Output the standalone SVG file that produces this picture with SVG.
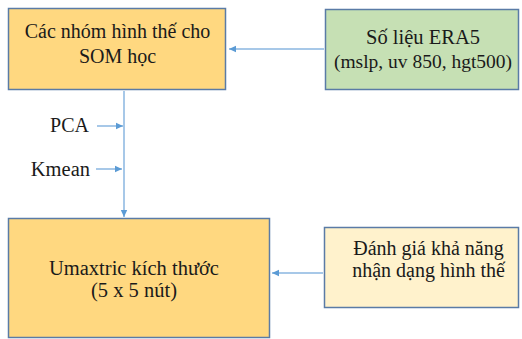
<svg xmlns="http://www.w3.org/2000/svg" width="522" height="339" viewBox="0 0 522 339">
<defs>
<marker id="ah" markerWidth="8" markerHeight="8" refX="7" refY="4" orient="auto" markerUnits="userSpaceOnUse">
<path d="M0,0.8 L7,4 L0,7.2 Z" fill="#5B9BD5"/>
</marker>
<style>
.box{stroke:#5A7BA6;stroke-width:1.5}
.t{fill:#1a1a1a;text-anchor:middle}
.r{text-anchor:end}
.c{stroke:#8AB6E0;stroke-width:1.5;fill:none}
</style>
</defs>
<rect width="522" height="339" fill="#fff"/>
<g id="connectors">
<line class="c" x1="324" y1="49" x2="229" y2="49" marker-end="url(#ah)"/>
<line class="c" x1="124" y1="91" x2="124" y2="217" marker-end="url(#ah)"/>
<line class="c" x1="97" y1="126" x2="123" y2="126" marker-end="url(#ah)"/>
<line class="c" x1="96" y1="169" x2="122" y2="169" marker-end="url(#ah)"/>
<line class="c" x1="323" y1="273" x2="272" y2="273" marker-end="url(#ah)"/>
</g>
<g font-family="'Liberation Serif', 'DejaVu Serif', serif">
<g id="n1">
<rect class="box" x="8.5" y="8.5" width="217" height="81" fill="#FFD880"/>
<text class="t" x="117.5" y="38" font-size="20">Các nhóm hình thế cho</text>
<text class="t" x="117.5" y="63" font-size="20">SOM học</text>
</g>
<g id="n2">
<rect class="box" x="325.5" y="9.5" width="193" height="80" fill="#C6E0B4"/>
<text class="t" x="423" y="44" font-size="20.5">Số liệu ERA5</text>
<text class="t" x="423" y="68" font-size="19.5">(mslp, uv 850, hgt500)</text>
</g>
<g id="lbl">
<text class="t r" x="89" y="132" font-size="20">PCA</text>
<text class="t r" x="90" y="176" font-size="20.5">Kmean</text>
</g>
<g id="n3">
<rect class="box" x="8.5" y="218.5" width="261" height="119" fill="#FFD880"/>
<text class="t" x="134" y="275" font-size="20.5">Umaxtric kích thước</text>
<text class="t" x="134" y="297" font-size="20.5">(5 x 5 nút)</text>
</g>
<g id="n4">
<rect class="box" x="324.5" y="227.5" width="194" height="80" fill="#FFF2CC"/>
<text class="t" x="428.5" y="255" font-size="20">Đánh giá khả năng</text>
<text class="t" x="428.5" y="277" font-size="20">nhận dạng hình thế</text>
</g>
</g>
</svg>
